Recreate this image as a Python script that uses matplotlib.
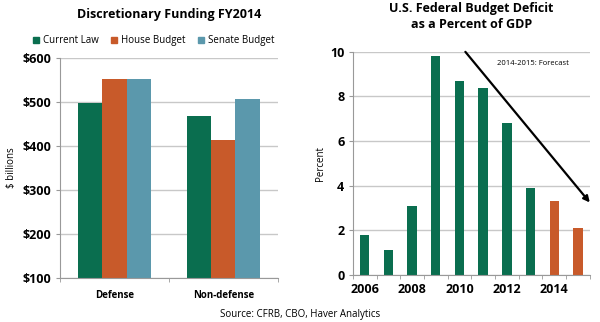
import numpy as np
import matplotlib.pyplot as plt
from matplotlib.patches import Patch

plt.rcParams['font.family'] = ['Open Sans', 'DejaVu Sans']

GREEN = '#0a6e4f'
ORANGE = '#c85a2a'
TEAL = '#5b98ac'
GRID = '#c8c8c8'

# Discretionary funding, $ billions
categories = ['Defense', 'Non-defense']
current_law = [498, 469]
house_budget = [552, 414]
senate_budget = [552, 506]

# Deficit as a percent of GDP
years = [2006, 2007, 2008, 2009, 2010, 2011, 2012, 2013, 2014, 2015]
deficit = [1.8, 1.1, 3.1, 9.8, 8.7, 8.4, 6.8, 3.9, 3.3, 2.1]
forecast_from = 2014

fig = plt.figure(figsize=(6, 3.22), dpi=100)

def style_axes(ax):
    ax.spines['top'].set_visible(False)
    ax.spines['right'].set_visible(False)
    ax.spines['left'].set_color('#999999')
    ax.spines['bottom'].set_color('#999999')
    ax.set_axisbelow(True)
    ax.yaxis.grid(True, color=GRID, lw=1)
    ax.tick_params(axis='y', length=3, color='#999999', pad=3)
    ax.tick_params(axis='x', which='major', length=0)
    ax.tick_params(axis='x', which='minor', length=3, color='#999999')

# left panel
ax1 = fig.add_axes([0.1, 0.137, 0.363, 0.683])
x = np.arange(len(categories))
w = 0.223
ax1.bar(x - w, current_law, w, color=GREEN)
ax1.bar(x, house_budget, w, color=ORANGE)
ax1.bar(x + w, senate_budget, w, color=TEAL)
ax1.set_ylim(100, 600)
ax1.set_xlim(-0.5, 1.5)
ax1.set_yticks([100, 200, 300, 400, 500, 600])
ax1.set_yticklabels(['$%d' % v for v in [100, 200, 300, 400, 500, 600]],
                    fontsize=9, fontweight='bold')
ax1.set_xticks(x)
ax1.set_xticklabels(categories, fontsize=7, fontweight='bold')
ax1.set_xticks([-0.5, 0.5, 1.5], minor=True)
ax1.tick_params(axis='x', pad=9)
style_axes(ax1)
ax1.set_ylabel('$ billions', fontsize=7, labelpad=4)
ax1.set_title('Discretionary Funding FY2014', fontsize=9, fontweight='bold',
              pad=29)
handles = [Patch(color=GREEN, label='Current Law'),
           Patch(color=ORANGE, label='House Budget'),
           Patch(color=TEAL, label='Senate Budget')]
ax1.legend(handles=handles, loc='lower center', bbox_to_anchor=(0.43, 1.035),
           ncol=3, frameon=False, fontsize=7, handlelength=0.6,
           handleheight=0.6, handletextpad=0.4, columnspacing=1.3,
           borderaxespad=0)

# right panel
ax2 = fig.add_axes([0.588, 0.146, 0.395, 0.693])
pos = np.arange(len(years))
colors = [ORANGE if y >= forecast_from else GREEN for y in years]
ax2.bar(pos, deficit, 0.4, color=colors)
ax2.set_ylim(0, 10)
ax2.set_xlim(-0.5, len(years) - 0.5)
ax2.set_yticks([0, 2, 4, 6, 8, 10])
ax2.set_yticklabels(['0', '2', '4', '6', '8', '10'], fontsize=9,
                    fontweight='bold')
ax2.set_xticks(pos[::2])
ax2.set_xticklabels([str(y) for y in years[::2]], fontsize=9,
                    fontweight='bold')
ax2.set_xticks(np.arange(-0.5, len(years), 1), minor=True)
ax2.tick_params(axis='x', pad=6)
style_axes(ax2)
ax2.set_ylabel('Percent', fontsize=7, labelpad=3)
ax2.set_title('U.S. Federal Budget Deficit\nas a Percent of GDP', fontsize=9,
              fontweight='bold', pad=17, linespacing=1.3)
ax2.text(0.76, 0.965, '2014-2015: Forecast', transform=ax2.transAxes,
         fontsize=5.5, ha='center', va='top')
ax2.annotate('', xy=(1.0, 0.325), xytext=(0.475, 1.0),
             xycoords='axes fraction', textcoords='axes fraction',
             arrowprops=dict(arrowstyle='-|>', color='black', lw=1.6,
                             mutation_scale=9, shrinkA=0, shrinkB=0),
             annotation_clip=False)

fig.text(0.5, 0.015, 'Source: CFRB, CBO, Haver Analytics', ha='center',
         fontsize=7)

fig.savefig('out.png', dpi=100)
